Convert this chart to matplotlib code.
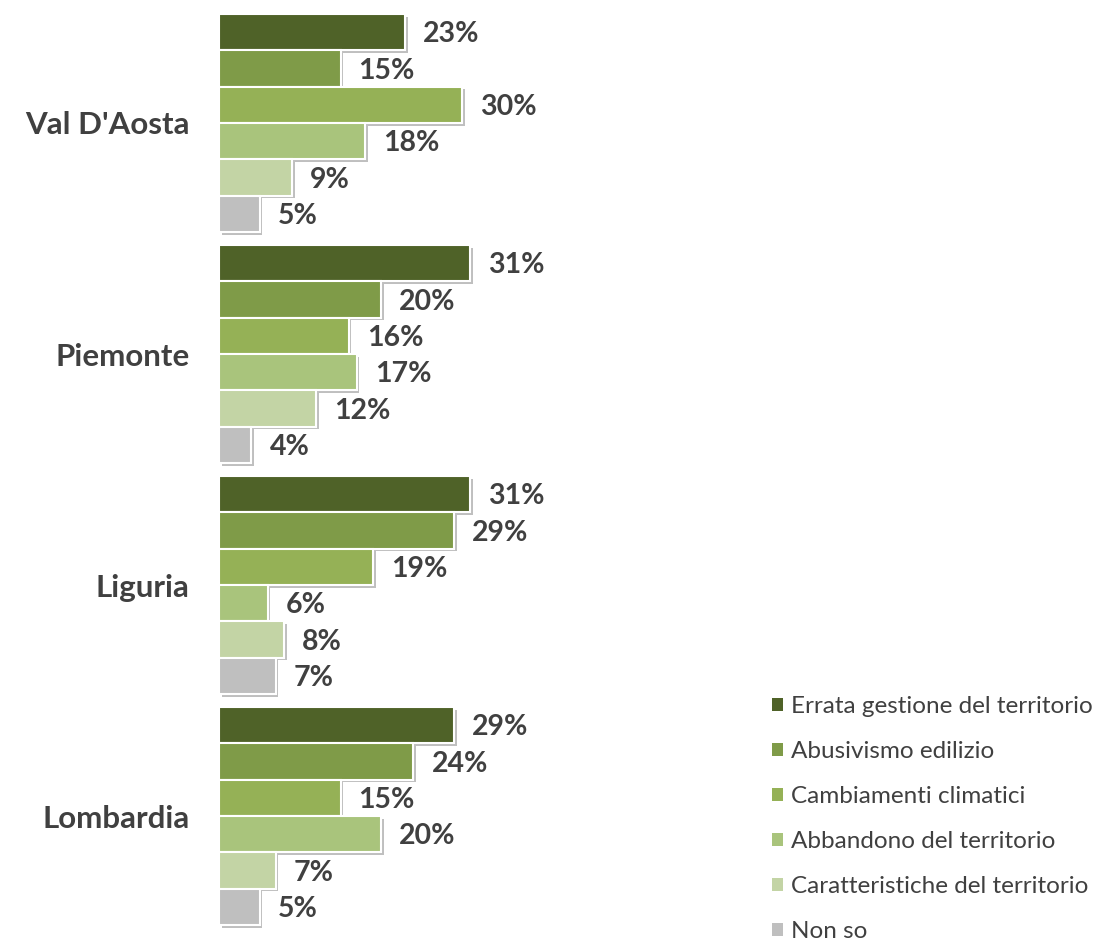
import matplotlib
matplotlib.use("Agg")
import matplotlib.pyplot as plt
import matplotlib.patheffects as pe
from matplotlib.patches import Patch
import numpy as np

regions = ["Val D'Aosta", "Piemonte", "Liguria", "Lombardia"]
series_names = ["Errata gestione del territorio", "Abusivismo edilizio",
                "Cambiamenti climatici", "Abbandono del territorio",
                "Caratteristiche del territorio", "Non so"]
errata = [23, 31, 31, 29]
abusivismo = [15, 20, 29, 24]
cambiamenti = [30, 16, 19, 15]
abbandono = [18, 17, 6, 20]
caratteristiche = [9, 12, 8, 7]
non_so = [5, 4, 7, 5]
series = [errata, abusivismo, cambiamenti, abbandono, caratteristiche, non_so]
colors = ["#4F6228", "#7F9B48", "#95B156", "#A9C47C", "#C3D4A5", "#BFBFBF"]

plt.rcParams['font.family'] = ['Lato', 'DejaVu Sans']

W, H = 1107, 943
fig = plt.figure(figsize=(W / 100, H / 100), dpi=100)
ax_left, ax_right = 219, 719
ax_top, ax_bot = 7.5, 931.5
ax = fig.add_axes([ax_left / W, 1 - ax_bot / H, (ax_right - ax_left) / W, (ax_bot - ax_top) / H])

n = len(series)
bh = 0.944 / n
y = np.arange(len(regions))
shadow = [pe.SimplePatchShadow(offset=(2, -2), shadow_rgbFace='#000000', alpha=0.25), pe.Normal()]
for i, (vals, col) in enumerate(zip(series, colors)):
    ypos = y - 0.472 + bh * (i + 0.5)
    bars = ax.barh(ypos, vals, height=bh, color=col, edgecolor='white', linewidth=1.5,
                   label=series_names[i])
    for b in bars:
        b.set_path_effects(shadow)
    for yy, v in zip(ypos, vals):
        ax.annotate(f"{v}%", xy=(v, yy), xytext=(13, -1.5), textcoords='offset points',
                    ha='left', va='center', fontsize=20.5, fontweight='bold', color='#404040')

ax.set_xlim(0, (ax_right - ax_left) / 8.1)
ax.set_ylim(len(regions) - 0.5, -0.5)
ax.set_yticks(y)
ax.set_yticklabels(regions, fontsize=22.5, fontweight='bold', color='#404040')
ax.tick_params(axis='y', length=0, pad=21)
ax.set_xticks([])
for s in ax.spines.values():
    s.set_visible(False)

handles = [Patch(facecolor=c, edgecolor='none') for c in colors]
leg = fig.legend(handles, series_names, loc='upper left', bbox_to_anchor=(762 / W, 1 - 686 / H),
                 frameon=False, fontsize=17.5, handlelength=0.45, handleheight=0.45,
                 handletextpad=0.35, labelspacing=0.99, borderaxespad=0)
for t in leg.get_texts():
    t.set_color('#404040')

fig.savefig("out.png", dpi=100)
